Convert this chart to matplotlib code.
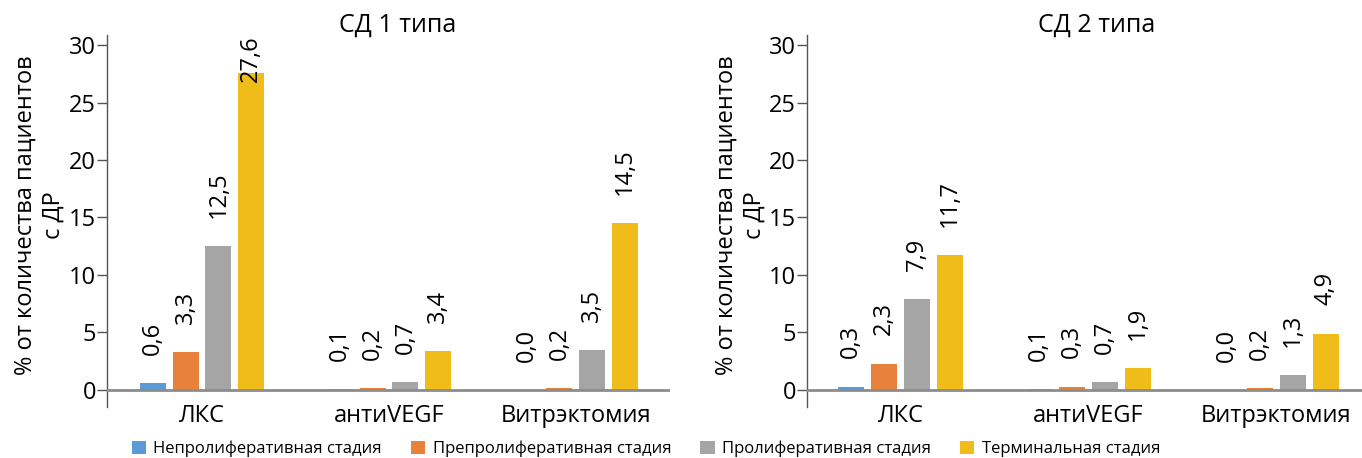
import matplotlib
matplotlib.use('Agg')
import matplotlib.pyplot as plt
import numpy as np
from matplotlib.patches import Patch

plt.rcParams['font.family'] = ['Open Sans', 'DejaVu Sans']

# Data: % of patients with DR, by treatment and DR stage
categories = ['ЛКС', 'антиVEGF', 'Витрэктомия']
stages = ['Непролиферативная стадия', 'Препролиферативная стадия',
          'Пролиферативная стадия', 'Терминальная стадия']
titles = ['СД 1 типа', 'СД 2 типа']

dm1_values = [
    [0.6, 0.1, 0.0],    # non-proliferative
    [3.3, 0.2, 0.2],    # pre-proliferative
    [12.5, 0.7, 3.5],   # proliferative
    [27.6, 3.4, 14.5],  # terminal
]
dm2_values = [
    [0.3, 0.1, 0.0],
    [2.3, 0.3, 0.2],
    [7.9, 0.7, 1.3],
    [11.7, 1.9, 4.9],
]

colors = ['#5B9BD5', '#E8823A', '#A5A5A5', '#EFBC1A']
ylabel = '% от количества пациентов\nс ДР'

fig = plt.figure(figsize=(13.62, 4.58), dpi=100)
ax1 = fig.add_axes([107 / 1362, 1 - 407 / 458, 563 / 1362, 372 / 458])
ax2 = fig.add_axes([807 / 1362, 1 - 407 / 458, 555 / 1362, 372 / 458])

x = np.arange(len(categories))
width = 0.139
step = 0.176
ymin, ymax = -1.48, 30.87

for ax, values, title, xlim in [(ax1, dm1_values, titles[0], (-0.508, 2.503)),
                                (ax2, dm2_values, titles[1], (-0.497, 2.457))]:
    for i, (vals, color) in enumerate(zip(values, colors)):
        pos = x + (i - 1.5) * step
        ax.bar(pos, vals, width=width, color=color, zorder=2)
        for px, v in zip(pos, vals):
            # keep rotated labels inside the plot area
            ly = min(v + 2.45, 26.8)
            ax.text(px, ly, f'{v:.1f}'.replace('.', ','), rotation=90,
                    ha='center', va='bottom', fontsize=17, color='black')

    ax.set_xlim(*xlim)
    ax.set_ylim(ymin, ymax)
    ax.axhline(0, color='#8C8C8C', lw=2, zorder=3)
    ax.set_yticks(range(0, 31, 5))
    ax.tick_params(axis='y', direction='out', length=7, width=1,
                   color='#555555', labelsize=17, pad=1)
    ax.set_xticks([])
    for s in ['top', 'right', 'bottom']:
        ax.spines[s].set_visible(False)
    ax.spines['left'].set_color('#555555')
    ax.spines['left'].set_linewidth(1)

    for xi, cat in zip(x, categories):
        ax.annotate(cat, xy=(xi, 0), xytext=(0, -10), textcoords='offset points',
                    ha='center', va='top', fontsize=17, annotation_clip=False)

    ax.text(-67 / 560, 0.516, ylabel, transform=ax.transAxes, rotation=90,
            ha='center', va='center', multialignment='center', fontsize=17)

fig.text(398 / 1362, 1 - 25 / 458, titles[0], ha='center', va='center', fontsize=18)
fig.text(1097 / 1362, 1 - 25 / 458, titles[1], ha='center', va='center', fontsize=18)

handles = [Patch(facecolor=c, edgecolor='none') for c in colors]
fig.legend(handles, stages, loc='center', bbox_to_anchor=(646 / 1362, 1 - 449 / 458),
           ncol=4, frameon=False, fontsize=12, handlelength=0.85, handleheight=0.85,
           handletextpad=0.45, columnspacing=1.75, borderaxespad=0)

fig.savefig('out.png', dpi=100)
